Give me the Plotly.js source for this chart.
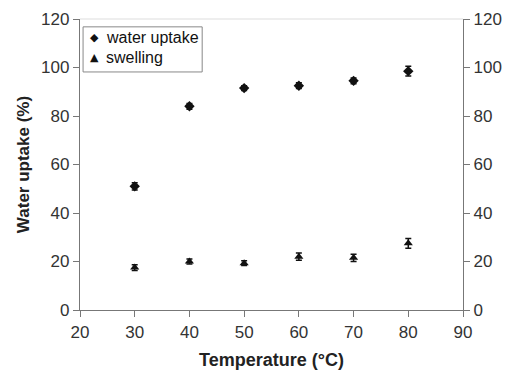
<!DOCTYPE html>
<html>
<head>
<meta charset="utf-8">
<script src="https://cdn.plot.ly/plotly-3.0.1.min.js"></script>
<style>html,body{margin:0;padding:0;background:#fff;}#chart{width:507px;height:370px;}</style>
</head>
<body>
<div id="chart"></div>
<script>
const temperature = [30, 40, 50, 60, 70, 80];
const waterUptake = [51, 84, 91.5, 92.5, 94.5, 98.5];
const waterUptakeErr = [1.5, 1.2, 1, 1.2, 1.2, 2];
const swelling = [17.5, 20, 19.3, 22, 21.5, 27.5];
const swellingErr = [1.2, 1, 1, 1.5, 1.5, 2];
const yTicks = [0, 20, 40, 60, 80, 100, 120];
const xTicks = [20, 30, 40, 50, 60, 70, 80, 90];
const seriesNames = ['water uptake', 'swelling'];
const seriesGlyphs = ['◆', '▲'];

const font = 'Liberation Sans, Arial, sans-serif';
const traces = [
  {
    x: temperature, y: waterUptake, name: seriesNames[0], type: 'scatter', mode: 'markers',
    marker: {symbol: 'diamond', size: 8, color: '#111'},
    error_y: {type: 'data', array: waterUptakeErr, visible: true, color: '#111', thickness: 1.5, width: 3}
  },
  {
    x: temperature, y: swelling, name: seriesNames[1], type: 'scatter', mode: 'markers',
    marker: {symbol: 'triangle-up', size: 8, color: '#111'},
    error_y: {type: 'data', array: swellingErr, visible: true, color: '#111', thickness: 1.5, width: 3}
  },
  {
    x: temperature, y: waterUptake, yaxis: 'y2', type: 'scatter', mode: 'markers',
    marker: {opacity: 0}, showlegend: false, hoverinfo: 'skip'
  }
];

const legendRows = [0.938, 0.866];
const annotations = [];
seriesNames.forEach((n, i) => {
  annotations.push({xref: 'paper', yref: 'paper', x: 0.039, y: legendRows[i], xanchor: 'center', yanchor: 'middle',
    text: seriesGlyphs[i], showarrow: false, font: {family: 'DejaVu Sans', size: 11, color: '#111'}});
  annotations.push({xref: 'paper', yref: 'paper', x: 0.062, y: legendRows[i], xanchor: 'left', yanchor: 'middle',
    text: n, showarrow: false, font: {family: font, size: 16, color: '#111'}});
});

const layout = {
  width: 507, height: 370,
  margin: {l: 80, r: 44, t: 19, b: 60},
  paper_bgcolor: '#fff', plot_bgcolor: '#fff',
  font: {family: font, size: 17, color: '#333'},
  showlegend: false,
  xaxis: {
    range: [20, 90], tickvals: xTicks, showgrid: false, zeroline: false,
    showline: true, linecolor: '#777', linewidth: 1.2,
    ticks: 'outside', ticklen: 6, tickcolor: '#777',
    tickfont: {family: font, size: 17, color: '#333'},
    title: {text: '<b>Temperature (°C)</b>', font: {family: font, size: 18, color: '#222'}, standoff: 12}
  },
  yaxis: {
    range: [0, 120], tickvals: yTicks, showgrid: false, zeroline: false,
    showline: true, linecolor: '#777', linewidth: 1.2,
    ticks: 'outside', ticklen: 6, tickcolor: '#777',
    tickfont: {family: font, size: 17, color: '#333'},
    title: {text: '<b>Water uptake (%)</b>', font: {family: font, size: 17, color: '#222'}, standoff: 7}
  },
  yaxis2: {
    range: [0, 120], tickvals: yTicks, overlaying: 'y', side: 'right', showgrid: false, zeroline: false,
    showline: true, linecolor: '#777', linewidth: 1.2,
    ticks: 'outside', ticklen: 6, tickcolor: '#777',
    tickfont: {family: font, size: 17, color: '#333'}
  },
  shapes: [
    {type: 'line', xref: 'paper', yref: 'paper', x0: 0, x1: 1, y0: 1, y1: 1, line: {color: '#ddd', width: 1}},
    {type: 'rect', xref: 'paper', yref: 'paper', x0: 0.008, x1: 0.319, y0: 0.818, y1: 0.973,
      line: {color: '#888', width: 1}, fillcolor: '#fff', layer: 'below'}
  ],
  annotations: annotations
};

Plotly.newPlot('chart', traces, layout, {displayModeBar: false, staticPlot: true});
</script>
</body>
</html>
